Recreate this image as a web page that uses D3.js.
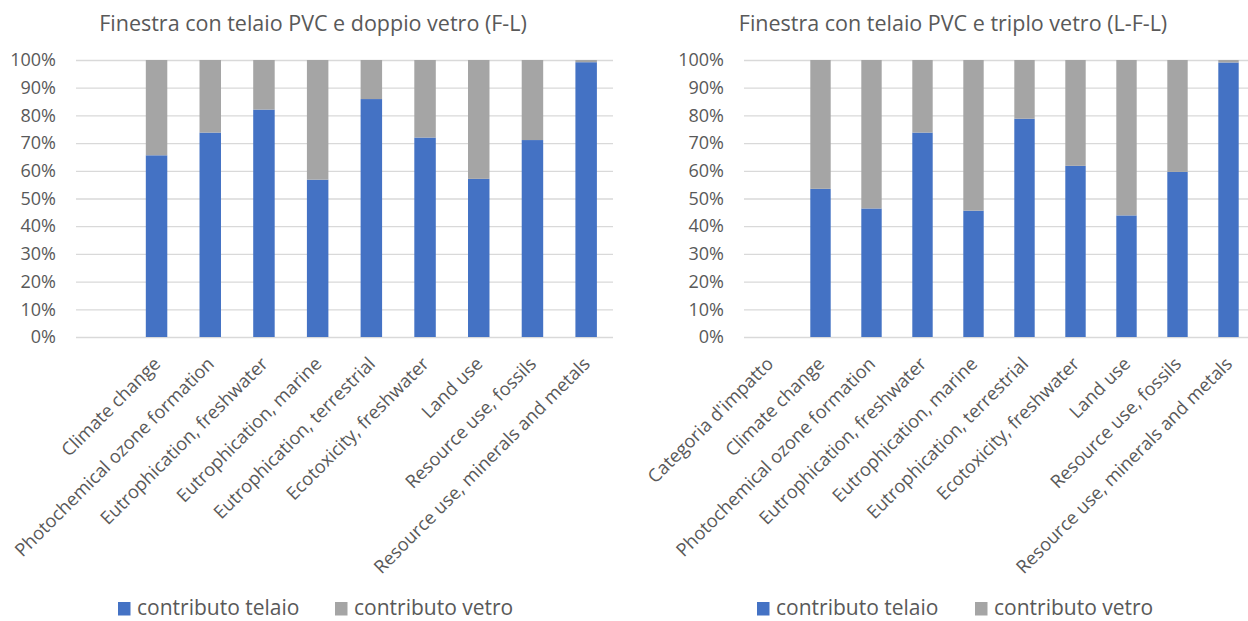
<!DOCTYPE html>
<html>
<head>
<meta charset="utf-8">
<script src="https://cdn.jsdelivr.net/npm/d3@7"></script>
<style>
  body { margin: 0; background: #fff; }
  text { font-family: "Open Sans", sans-serif; fill: #595959; }
</style>
</head>
<body>
<svg id="viz"></svg>
<script>
var width = 1248;
var height = 621;

// impact categories (first slot is empty in both charts)
var categoriesLeft = ["", "Climate change", "Photochemical ozone formation", "Eutrophication, freshwater",
    "Eutrophication, marine", "Eutrophication, terrestrial", "Ecotoxicity, freshwater", "Land use",
    "Resource use, fossils", "Resource use, minerals and metals"];
var categoriesRight = ["Categoria d'impatto", "Climate change", "Photochemical ozone formation", "Eutrophication, freshwater",
    "Eutrophication, marine", "Eutrophication, terrestrial", "Ecotoxicity, freshwater", "Land use",
    "Resource use, fossils", "Resource use, minerals and metals"];

// % share of frame (telaio) and glass (vetro)
var telaioLeft = [null, 65.6, 73.8, 82.1, 56.8, 85.9, 72.0, 57.1, 71.1, 99.2];
var vetroLeft = [null, 34.4, 26.2, 17.9, 43.2, 14.1, 28.0, 42.9, 28.9, 0.8];
var telaioRight = [null, 53.5, 46.4, 73.8, 45.6, 78.8, 61.8, 43.9, 59.6, 99.1];
var vetroRight = [null, 46.5, 53.6, 26.2, 54.4, 21.2, 38.2, 56.1, 40.4, 0.9];

var yTicks = [0, 10, 20, 30, 40, 50, 60, 70, 80, 90, 100];
var seriesNames = ["contributo telaio", "contributo vetro"];
var colors = ["#4472C4", "#A5A5A5"];

var svg = d3.select("#viz").attr("width", width).attr("height", height);

function drawChart(opt) {
    var g = svg.append("g");

    var x = d3.scaleBand()
        .domain(d3.range(opt.categories.length))
        .range([opt.left, opt.right])
        .paddingInner(0.6)
        .paddingOuter(0.3);

    var y = d3.scaleLinear().domain([0, 100]).range([opt.bottom, opt.top]);

    g.append("text")
        .attr("x", opt.titleX)
        .attr("y", 31)
        .attr("text-anchor", "middle")
        .attr("font-size", 21.5)
        .text(opt.title);

    // gridlines
    g.append("g")
        .attr("transform", "translate(" + opt.left + ",0)")
        .call(d3.axisLeft(y).tickValues(yTicks).tickSize(-(opt.right - opt.left)).tickFormat(""))
        .call(function (a) {
            a.select(".domain").remove();
            a.selectAll("line").attr("stroke", "#d9d9d9").attr("stroke-width", 1.3);
        });

    // y tick labels
    g.append("g")
        .attr("transform", "translate(" + (opt.left - 20) + ",0)")
        .call(d3.axisLeft(y).tickValues(yTicks).tickSize(0).tickPadding(0).tickFormat(function (d) {
            return d + "%";
        }))
        .call(function (a) {
            a.select(".domain").remove();
            a.selectAll("text").attr("font-size", 18).attr("font-family", "Open Sans").attr("fill", "#595959");
        });

    var rows = opt.categories.map(function (c, i) {
        return { i: i, telaio: opt.telaio[i], vetro: opt.vetro[i] };
    }).filter(function (d) { return d.telaio != null; });

    var stack = d3.stack().keys(["telaio", "vetro"])(rows);

    g.append("g")
        .selectAll("g")
        .data(stack)
        .enter().append("g")
            .attr("fill", function (d, k) { return colors[k]; })
        .selectAll("rect")
        .data(function (d) { return d; })
        .enter().append("rect")
            .attr("x", function (d) { return x(d.data.i); })
            .attr("width", x.bandwidth())
            .attr("y", function (d) { return y(d[1]); })
            .attr("height", function (d) { return y(d[0]) - y(d[1]); });

    // rotated category labels
    g.append("g")
        .selectAll("text")
        .data(opt.categories)
        .enter().append("text")
            .attr("text-anchor", "end")
            .attr("font-size", 18.3)
            .attr("transform", function (d, i) {
                var cx = x(i) + x.bandwidth() / 2;
                return "translate(" + (cx + 5) + "," + (opt.bottom + 28) + ") rotate(-45)";
            })
            .text(function (d) { return d; });

    // legend
    var leg = g.append("g")
        .selectAll("g")
        .data(seriesNames)
        .enter().append("g")
            .attr("transform", function (d, k) {
                return "translate(" + opt.legendX[k] + ",602)";
            });
    leg.append("rect")
        .attr("width", 12.5)
        .attr("height", 13.5)
        .attr("fill", function (d, k) { return colors[k]; });
    leg.append("text")
        .attr("x", 19)
        .attr("y", 12.5)
        .attr("font-size", 21)
        .text(function (d) { return d; });
}

drawChart({
    title: "Finestra con telaio PVC e doppio vetro (F-L)",
    titleX: 313,
    categories: categoriesLeft,
    telaio: telaioLeft,
    vetro: vetroLeft,
    left: 76, right: 613, top: 60, bottom: 337,
    legendX: [118, 335]
});

drawChart({
    title: "Finestra con telaio PVC e triplo vetro (L-F-L)",
    titleX: 953,
    categories: categoriesRight,
    telaio: telaioRight,
    vetro: vetroRight,
    left: 744, right: 1254, top: 60, bottom: 337,
    legendX: [757, 975]
});
</script>
</body>
</html>
